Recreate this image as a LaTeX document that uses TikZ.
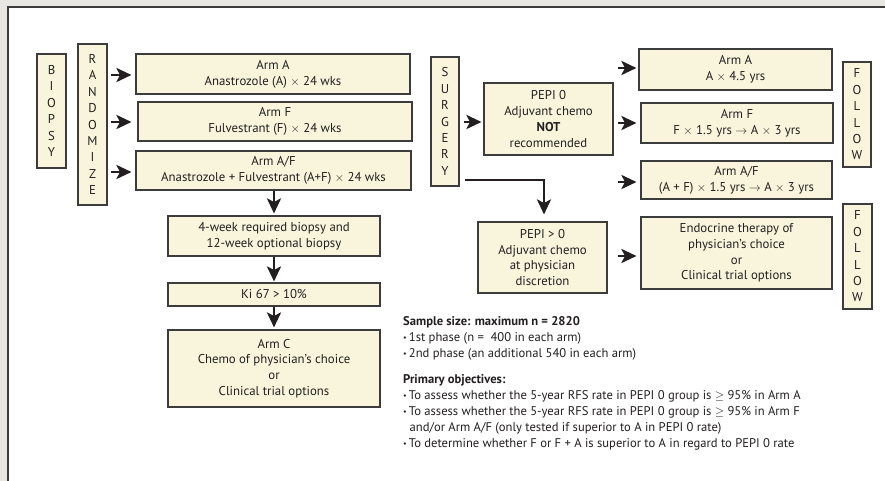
\documentclass[tikz,border=0pt]{standalone}
\usepackage{fontspec}
\setmainfont{PT Sans}
\usetikzlibrary{arrows.meta,calc}
\definecolor{bg}{HTML}{E8E7E2}
\definecolor{cream}{HTML}{F8F5DC}
\definecolor{edge}{HTML}{3C3C3C}
\definecolor{ink}{HTML}{231F20}
\newcommand{\bul}{{\fontsize{8}{8}\selectfont\raisebox{1pt}{\textbullet}}\,}
\begin{document}
\begin{tikzpicture}[x=1pt,y=-1pt,
  box/.style={draw=edge, line width=1.1pt, fill=cream, inner sep=0pt, align=center,
    font=\fontsize{12.8}{15.8}\selectfont, text=ink},
  vbox/.style={box, font=\fontsize{12.8}{16.4}\selectfont},
  arr/.style={-{Stealth[length=15pt,width=14pt,inset=3.5pt]}, line width=2.6pt, draw=ink},
  notes/.style={anchor=north west, align=left, inner sep=0pt, text=ink,
    font=\fontsize{12.6}{16}\selectfont}]
% background and frame
\useasboundingbox (0,0) rectangle (885,481);
\fill[bg] (0,0) rectangle (885,481);
\fill[white] (8,7) rectangle (885,481);
\draw[edge, line width=1.6pt] (8,481) -- (8,7) -- (885,7);

% left column
\node[vbox, minimum width=29pt, minimum height=114pt] (biopsy) at (51.5,111) {B\\I\\O\\P\\S\\Y};
\node[vbox, minimum width=29pt, minimum height=161pt] (rand) at (92.5,124.5) {R\\A\\N\\D\\O\\M\\I\\Z\\E};

\node[box, minimum width=274pt, minimum height=40pt] (armA) at (273,74) {Arm A\\Anastrozole (A) $\times$ 24 wks};
\node[box, minimum width=274pt, minimum height=39pt] (armF) at (275,121.5) {Arm F\\Fulvestrant (F) $\times$ 24 wks};
\node[box, minimum width=275pt, minimum height=39pt] (armAF) at (273.5,170.5) {Arm A/F\\Anastrozole + Fulvestrant (A+F) $\times$ 24 wks};

\node[box, minimum width=212pt, minimum height=40pt] (bx4wk) at (274,236) {4-week required biopsy and\\12-week optional biopsy};
\node[box, minimum width=212pt, minimum height=23pt] (ki67) at (274,294.5) {Ki 67 > 10\%};
\node[box, minimum width=212pt, minimum height=77pt] (armC) at (274,368.5) {Arm C\\Chemo of physician's choice\\or\\Clinical trial options};

% middle
\node[vbox, minimum width=28pt, minimum height=129pt] (surgery) at (445,121.5) {S\\U\\R\\G\\E\\R\\Y};
\node[box, minimum width=129pt, minimum height=72pt] (pepi0) at (548.5,119) {PEPI 0\\Adjuvant chemo\\\textbf{NOT}\\recommended};
\node[box, minimum width=129pt, minimum height=71pt] (pepipos) at (542.5,257.5) {PEPI > 0\\Adjuvant chemo\\at physician\\discretion};

% right
\node[box, minimum width=193pt, minimum height=41pt] (rA) at (735.5,69.5) {Arm A\\A $\times$ 4.5 yrs};
\node[box, minimum width=192pt, minimum height=40pt] (rF) at (737,123) {Arm F\\F $\times$ 1.5 yrs $\rightarrow$ A $\times$ 3 yrs};
\node[box, minimum width=191pt, minimum height=38pt] (rAF) at (736.5,180) {Arm A/F\\(A + F) $\times$ 1.5 yrs $\rightarrow$ A $\times$ 3 yrs};
\node[box, minimum width=191pt, minimum height=72pt] (endo) at (736.5,253) {Endocrine therapy of\\physician's choice\\or\\Clinical trial options};
\node[vbox, minimum width=28pt, minimum height=105pt] (follow1) at (857,114.5) {F\\O\\L\\L\\O\\W};
\node[vbox, minimum width=29pt, minimum height=105pt] (follow2) at (857.5,256.5) {F\\O\\L\\L\\O\\W};

% arrows: randomize to arms
\draw[arr] ($(rand.east |- armA.west)+(3,1)$) -- ($(armA.west)+(-4,1)$);
\draw[arr] ($(rand.east |- armF.west)+(3,0.5)$) -- ($(armF.west)+(-6,0.5)$);
\draw[arr] ($(rand.east |- armAF.west)+(3,1.5)$) -- ($(armAF.west)+(-4,1.5)$);
% downward chain
\draw[arr] (armAF.south -| bx4wk.north) -- ($(bx4wk.north)+(0,-2)$);
\draw[arr] (bx4wk.south) -- ($(ki67.north)+(0,-1)$);
\draw[arr] (ki67.south) -- ($(armC.north)+(0,-2)$);
% surgery
\draw[arr] ($(surgery.east)+(4,0.5)$) -- ($(pepi0.west)+(-2,3)$);
\coordinate (elb) at ($(surgery.east)+(5,58.5)$);
\draw[arr, line join=miter] (elb) -| ($(pepipos.north)+(1.5,-7)$);
% pepi 0 to right arms
\draw[arr] ($(pepi0.east |- rA.west)+(4,-1.5)$) -- ($(rA.west)+(-2,-1.5)$);
\draw[arr] ($(pepi0.east |- rF.west)+(4,0)$) -- ($(rF.west)+(-4,0)$);
\draw[arr] ($(pepi0.east |- rAF.west)+(4,2)$) -- ($(rAF.west)+(-4,2)$);
\draw[arr] ($(pepipos.east)+(10,-1.5)$) -- ($(endo.west |- pepipos.east)+(-4,-1.5)$);

% notes
\node[notes] (notes) at (403,316) {\textbf{Sample size: maximum n = 2820}\\
\bul 1st phase (n = \ 400 in each arm)\\
\bul 2nd phase (an additional 540 in each arm)\\[10pt]
\textbf{Primary objectives:}\\
\bul To assess whether the 5-year RFS rate in PEPI 0 group is $\geq$ 95\% in Arm A\\
\bul To assess whether the 5-year RFS rate in PEPI 0 group is $\geq$ 95\% in Arm F\\
\hspace*{6.5pt}and/or Arm A/F (only tested if superior to A in PEPI 0 rate)\\
\bul To determine whether F or F + A is superior to A in regard to PEPI 0 rate};
\end{tikzpicture}
\end{document}
